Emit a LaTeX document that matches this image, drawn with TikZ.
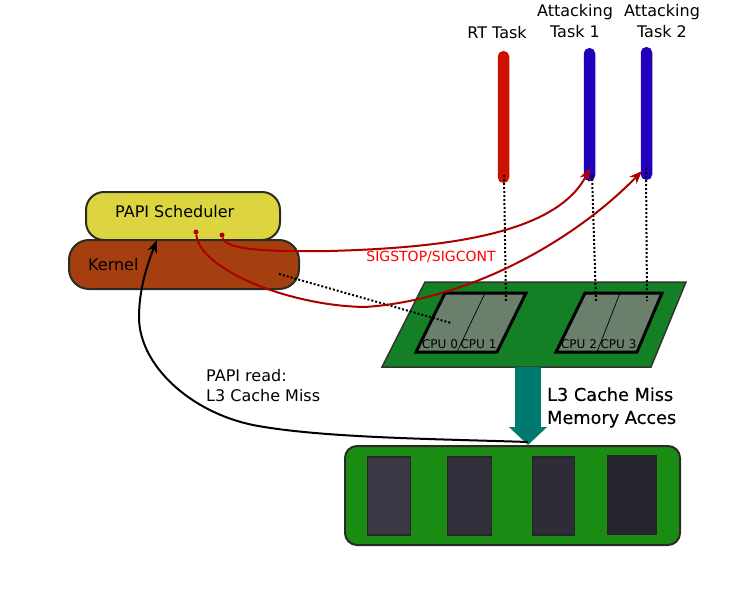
\documentclass[tikz,border=0pt]{standalone}
\usepackage{fontspec}
\setmainfont{DejaVu Sans}
\newfontfamily\boldishfont[FakeBold=0.35]{DejaVu Sans}
\usetikzlibrary{arrows.meta,positioning}

\definecolor{schedfill}{HTML}{DDD53F}
\definecolor{kernelfill}{HTML}{A63F10}
\definecolor{rtfill}{HTML}{CC1100}
\definecolor{attackfill}{HTML}{2200BB}
\definecolor{boardfill}{HTML}{148026}
\definecolor{corefill}{HTML}{6B7F6D}
\definecolor{ramfill}{HTML}{1A8C14}
\definecolor{busfill}{HTML}{007A70}
\definecolor{darkred}{HTML}{AA0000}
\definecolor{edgegray}{HTML}{2B2B22}
\definecolor{chipa}{HTML}{3A3844}
\definecolor{chipb}{HTML}{32303C}
\definecolor{chipc}{HTML}{2E2C37}
\definecolor{chipd}{HTML}{272530}

\begin{document}
\begin{tikzpicture}[x=1pt,y=-1pt,
		softbox/.style={rectangle,draw=edgegray,line width=2pt,inner sep=0pt},
		taskbar/.style={rectangle,inner sep=0pt,minimum width=11.5pt,rounded corners=5.5pt},
		chip/.style={rectangle,draw=black!85,line width=1.5pt,inner sep=0pt},
		label/.style={font=\fontsize{16}{21}\selectfont,inner sep=0pt,align=center},
		cpulabel/.style={font=\fontsize{12}{14}\selectfont,inner sep=0pt},
		corner/.style={fill=corefill,draw=black,line width=3pt,line join=miter},
		dotline/.style={dotted,line width=2pt},
		sigarrow/.style={-{Stealth[length=13pt,width=10pt]},darkred,line width=2pt},
		startdot/.style={circle,fill=darkred,inner sep=0pt,minimum size=5pt}]
		\useasboundingbox (0,0) rectangle (741,594);

		% tasks
		\node [taskbar,fill=rtfill,minimum height=132pt] (rt) at (503.5,117) {};
		\node [taskbar,fill=attackfill,minimum height=133pt] (attack-a) at (589.5,114.5) {};
		\node [taskbar,fill=attackfill,minimum height=133pt] (attack-b) at (646.5,113.5) {};
		\node [label] (rt-label) at (497,33) {RT Task};
		\node [label] (attack-a-label) at (575,21) {Attacking\\Task 1};
		\node [label] (attack-b-label) at (662,21) {Attacking\\Task 2};

		% scheduler and kernel
		\node [softbox,fill=schedfill,rounded corners=18pt,minimum width=194pt,minimum height=48pt] (sched) at (183,216) {};
		\node [softbox,fill=kernelfill,rounded corners=20pt,minimum width=230pt,minimum height=49pt] (kernel) at (184,264.5) {};
		\node [label,right] (sched-label) at (115,212) {PAPI Scheduler};
		\node [label,right] (kernel-label) at (88,265) {Kernel};

		% processor board
		\draw [fill=boardfill,draw=black!80,line width=1.5pt] (425,282) -- (686,282) -- (651,367) -- (382,367) -- cycle;
		\draw [corner] (445,293) -- (526,293) -- (497,352) -- (416,352) -- cycle;
		\draw [corner] (585,293) -- (662,293) -- (637,352) -- (556,352) -- cycle;
		\draw [line width=0.7pt] (485,293) -- (457,352);
		\draw [line width=0.7pt] (620,293) -- (597,352);
		\node [cpulabel] (cpu-0) at (440,344) {CPU 0};
		\node [cpulabel] (cpu-1) at (478.5,344) {CPU 1};
		\node [cpulabel] (cpu-2) at (579,344) {CPU 2};
		\node [cpulabel] (cpu-3) at (618.5,344) {CPU 3};

		% memory
		\node [softbox,fill=ramfill,rounded corners=12pt,minimum width=335pt,minimum height=99pt] (ram) at (512.5,495.5) {};
		\node [chip,fill=chipa,minimum width=43pt,minimum height=78pt] (chip-a) at (389,496) {};
		\node [chip,fill=chipb,minimum width=44pt,minimum height=78pt] (chip-b) at (469.5,496) {};
		\node [chip,fill=chipc,minimum width=42pt,minimum height=78pt] (chip-c) at (553.5,496) {};
		\node [chip,fill=chipd,minimum width=49pt,minimum height=78pt] (chip-d) at (632,495) {};

		\coordinate (bus-top) at (528,367);
		\coordinate (bus-tip) at (528,445);
		\coordinate (rt-cpu) at (506,301);
		\coordinate (attack-a-cpu) at (596,301);
		\coordinate (attack-b-cpu) at (647,301);
		\coordinate (rt-end) at (504,175);
		\coordinate (attack-a-end) at (592,175);
		\coordinate (attack-b-end) at (646,168);
		\coordinate (kernel-start) at (279,274);
		\coordinate (kernel-cpu) at (451,323);
		\coordinate (read-start) at (528,442);
		\coordinate (read-end) at (157,240);
		\coordinate (stop-a-tip) at (590,168);
		\coordinate (stop-b-tip) at (642,171);

		% memory access
		\draw [-{Triangle[length=18pt,width=37pt]},busfill,line width=25.5pt] (bus-top) to (bus-tip);
		\node [label,right,align=left,font=\fontsize{17.7}{23}\selectfont\boldishfont] (miss-label) at (547,407.5) {L3 Cache Miss\\Memory Acces};

		% dotted lines
		\draw [dotline] (rt-end) to (rt-cpu);
		\draw [dotline] (attack-a-end) to (attack-a-cpu);
		\draw [dotline] (attack-b-end) to (attack-b-cpu);
		\draw [dotline] (kernel-start) to (kernel-cpu);

		% signals
		\node [startdot] (stop-a) at (222,235) {};
		\node [startdot] (stop-b) at (196,232) {};
		\draw [sigarrow] (stop-a) .. controls (225,250) and (270,252) .. (330,251) .. controls (430,248) and (555,238) .. (stop-a-tip);
		\draw [sigarrow] (stop-b) .. controls (200,270) and (290,306) .. (365,307) .. controls (470,300) and (575,240) .. (stop-b-tip);
		\node [label,text=red,font=\fontsize{14}{16}\selectfont] (signal-label) at (431,257) {SIGSTOP/SIGCONT};

		% counter read
		\draw [-{Stealth[length=13pt,width=10pt]},line width=2pt] (read-start) .. controls (440,439) and (320,438) .. (253,425) .. controls (190,412) and (139,365) .. (139,317) .. controls (139,290) and (147,265) .. (read-end);
		\node [label,right,align=left,font=\fontsize{16}{20}\selectfont] (read-label) at (206,386) {PAPI read:\\L3 Cache Miss};
	\end{tikzpicture}
\end{document}
